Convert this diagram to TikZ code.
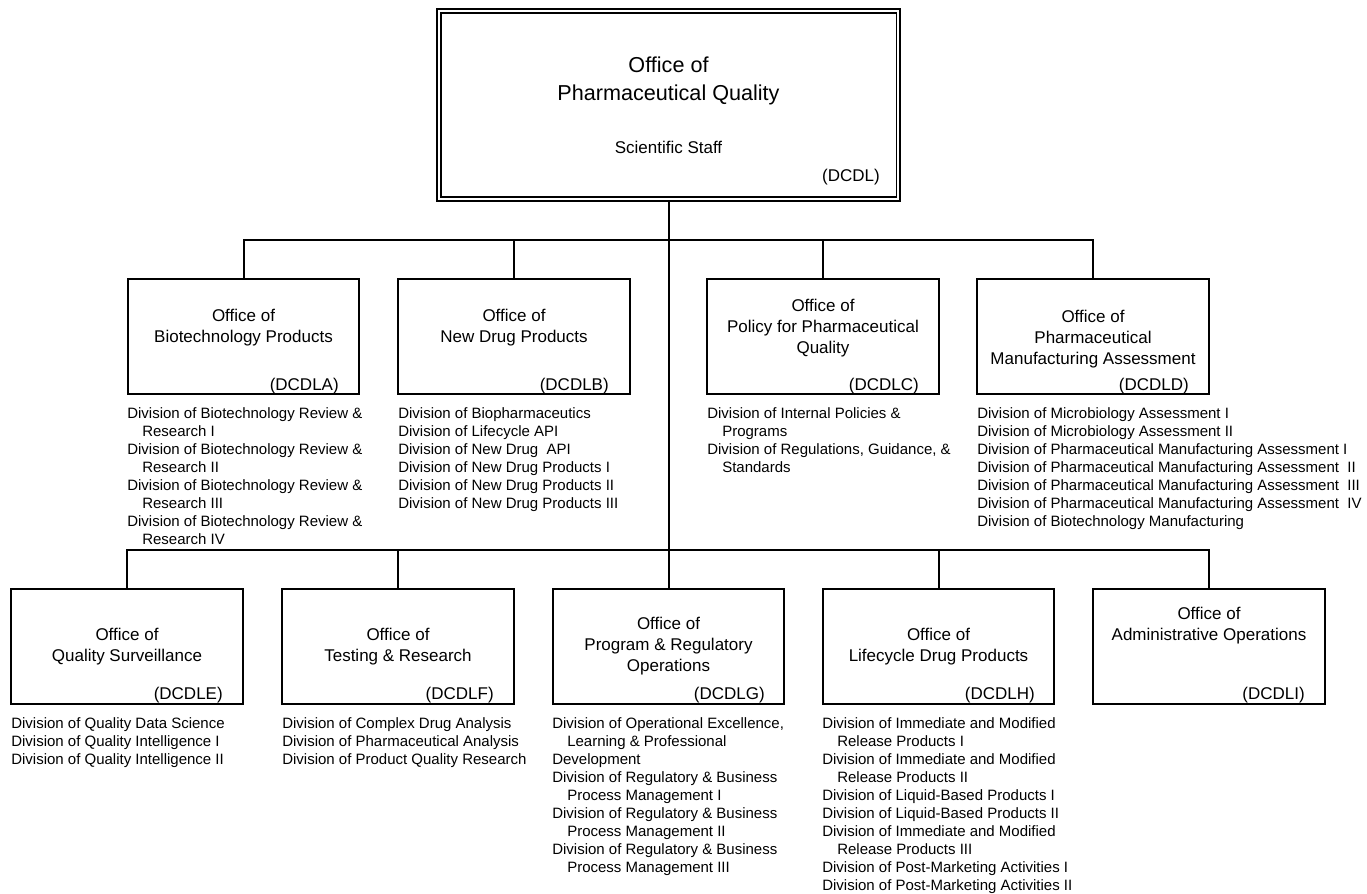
\documentclass[tikz,border=0pt]{standalone}
\usepackage{fontspec}
\setmainfont{Liberation Sans}
\usepackage{tikz}
\newcommand{\cont}{\hspace*{11.25pt}}

\begin{document}
\begin{tikzpicture}[x=0.75pt,y=-0.75pt,
  link/.style={line width=1.5pt},
  office/.style={draw,line width=1.5pt,minimum width=173.3pt,minimum height=86.3pt,inner sep=0pt},
  title/.style={anchor=north,align=center,inner sep=0pt,font=\fontsize{12.75}{15.75}\selectfont},
  code/.style={anchor=base east,inner sep=0pt,font=\fontsize{12.75}{15.75}\selectfont},
  divs/.style={anchor=north west,align=left,inner sep=0pt,font=\fontsize{11.25}{13.5}\selectfont},
  ]
  \useasboundingbox (0,0) rectangle (1367,893);

  % top office
  \node[draw,line width=1.3pt,double,double distance=1.5pt,minimum width=344.6pt,minimum height=141.3pt] (OPQ) at (668.5,105) {};
  \node[title,font=\fontsize{16.2}{21}\selectfont] (tOPQ) at (668.5,56.7) {Office of\\Pharmaceutical Quality};
  \node[title] (staff) at (668.5,140.5) {Scientific Staff};
  \node[code] (cOPQ) at (880,181) {(DCDL)};

  % first row
  \node[office] (A) at (243.5,336.5) {};
  \node[office] (B) at (514,336.5) {};
  \node[office] (C) at (823,336.5) {};
  \node[office] (D) at (1093,336.5) {};
  \node[title] (tA) at (243.5,308.5) {Office of\\Biotechnology Products};
  \node[title] (tB) at (514,308.5) {Office of\\New Drug Products};
  \node[title] (tC) at (823,298.5) {Office of\\Policy for Pharmaceutical\\Quality};
  \node[title] (tD) at (1093,309.5) {Office of\\Pharmaceutical\\Manufacturing Assessment};
  \node[code] (cA) at (339,390) {(DCDLA)};
  \node[code] (cB) at (609,390) {(DCDLB)};
  \node[code] (cC) at (919,390) {(DCDLC)};
  \node[code] (cD) at (1189,390) {(DCDLD)};

  \node[divs] (lA) at (127,407.4) {Division of Biotechnology Review \&\\\cont Research I\\Division of Biotechnology Review \&\\\cont Research II\\Division of Biotechnology Review \&\\\cont Research III\\Division of Biotechnology Review \&\\\cont Research IV};
  \node[divs] (lB) at (398,407.4) {Division of Biopharmaceutics\\Division of Lifecycle API\\Division of New Drug~ API\\Division of New Drug Products I\\Division of New Drug Products II\\Division of New Drug Products III};
  \node[divs] (lC) at (707,407.4) {Division of Internal Policies \&\\\cont Programs\\Division of Regulations, Guidance, \&\\\cont Standards};
  \node[divs] (lD) at (977,407.4) {Division of Microbiology Assessment I\\Division of Microbiology Assessment II\\Division of Pharmaceutical Manufacturing Assessment I\\Division of Pharmaceutical Manufacturing Assessment~ II\\Division of Pharmaceutical Manufacturing Assessment~ III\\Division of Pharmaceutical Manufacturing Assessment~ IV\\Division of Biotechnology Manufacturing};

  % second row
  \node[office] (E) at (127,646.5) {};
  \node[office] (F) at (398,646.5) {};
  \node[office] (G) at (668.5,646.5) {};
  \node[office] (H) at (938.5,646.5) {};
  \node[office] (I) at (1209,646.5) {};
  \node[title] (tE) at (127,627.5) {Office of\\Quality Surveillance};
  \node[title] (tF) at (398,627.5) {Office of\\Testing \& Research};
  \node[title] (tG) at (668.5,616.5) {Office of\\Program \& Regulatory\\Operations};
  \node[title] (tH) at (938.5,627.5) {Office of\\Lifecycle Drug Products};
  \node[title] (tI) at (1209,606.5) {Office of\\Administrative Operations};
  \node[code] (cE) at (223,699) {(DCDLE)};
  \node[code] (cF) at (494,699) {(DCDLF)};
  \node[code] (cG) at (765,699) {(DCDLG)};
  \node[code] (cH) at (1035,699) {(DCDLH)};
  \node[code] (cI) at (1305,699) {(DCDLI)};

  \node[divs] (lE) at (11,717.4) {Division of Quality Data Science\\Division of Quality Intelligence I\\Division of Quality Intelligence II};
  \node[divs] (lF) at (282,717.4) {Division of Complex Drug Analysis\\Division of Pharmaceutical Analysis\\Division of Product Quality Research};
  \node[divs] (lG) at (552,717.4) {Division of Operational Excellence,\\\cont Learning \& Professional\\Development\\Division of Regulatory \& Business\\\cont Process Management I\\Division of Regulatory \& Business\\\cont Process Management II\\Division of Regulatory \& Business\\\cont Process Management III};
  \node[divs] (lH) at (822,717.4) {Division of Immediate and Modified\\\cont Release Products I\\Division of Immediate and Modified\\\cont Release Products II\\Division of Liquid-Based Products I\\Division of Liquid-Based Products II\\Division of Immediate and Modified\\\cont Release Products III\\Division of Post-Marketing Activities I\\Division of Post-Marketing Activities II};

  % connectors
  \coordinate (bar1) at (668,240);
  \coordinate (bar2) at (668,550);
  \draw[link] (OPQ.south) -- (G.north);
  \draw[link] (A.north) |- (bar1) -| (D.north);
  \foreach \n in {B,C}
    \draw[link] (\n.north) -- (\n.north |- bar1);
  \draw[link] (E.north) |- (bar2) -| (I.north);
  \foreach \n in {F,H}
    \draw[link] (\n.north) -- (\n.north |- bar2);
\end{tikzpicture}
\end{document}
